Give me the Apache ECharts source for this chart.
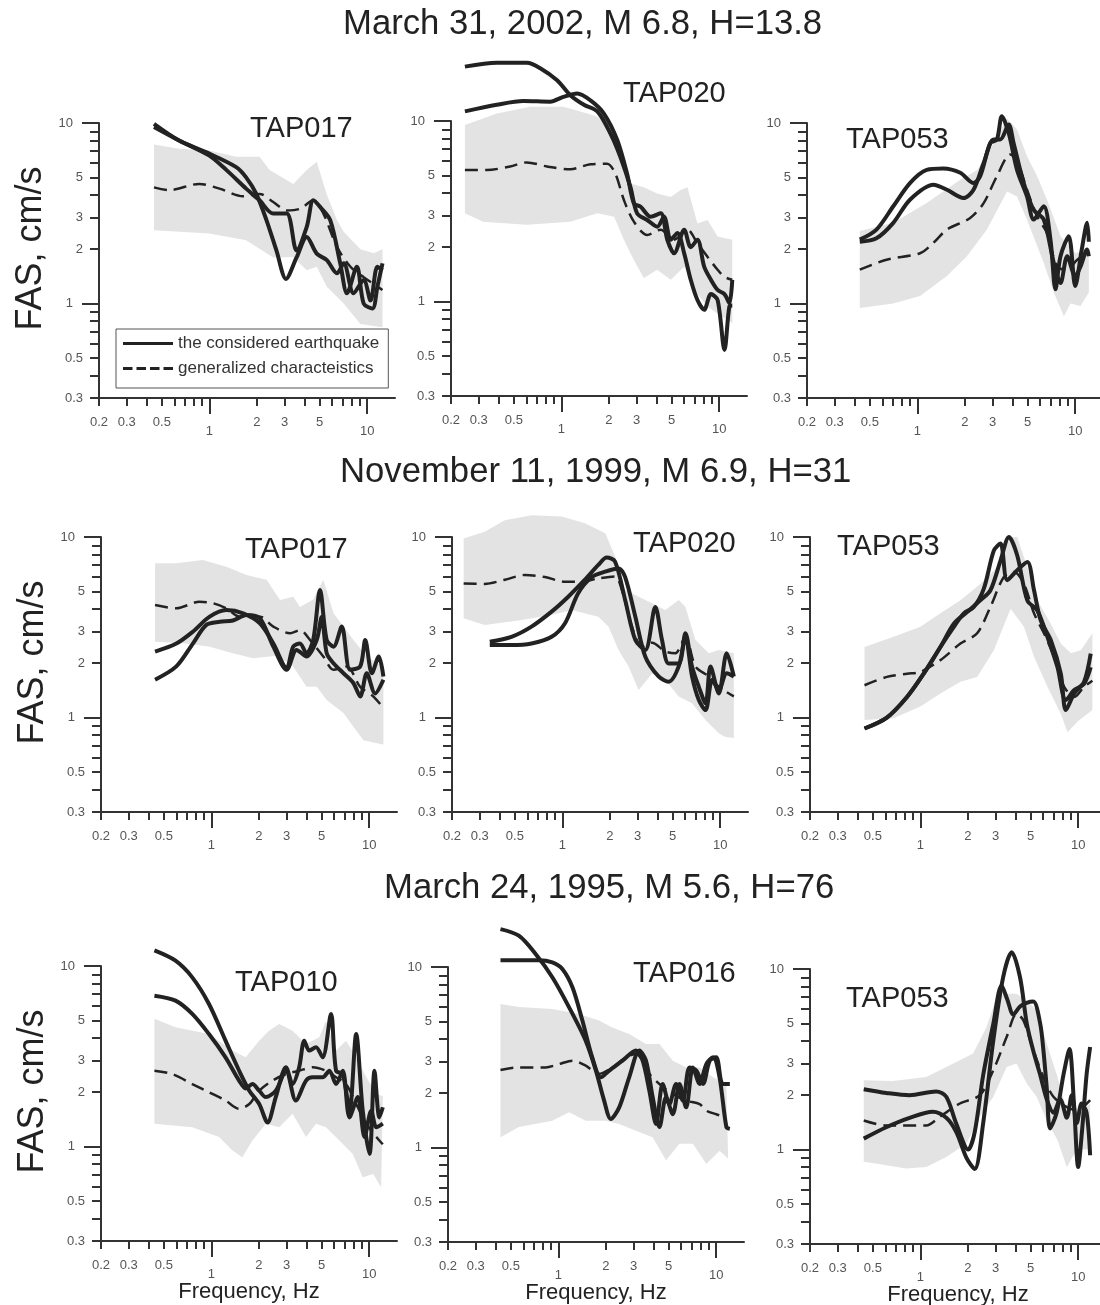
<!DOCTYPE html>
<html>
<head>
<meta charset="utf-8">
<title>FAS spectra</title>
<script src="https://cdn.jsdelivr.net/npm/echarts@6/dist/echarts.min.js"></script>
<style>
html, body { margin: 0; padding: 0; background: #fff; }
#chart { width: 1100px; height: 1305px; }
</style>
</head>
<body>
<div id="chart"></div>
<script>
// tick positions (Hz / cm/s)
const xTickShort = [0.2, 0.3, 0.4, 0.5, 0.6, 0.7, 0.8, 0.9, 2, 3, 4, 5, 6, 7, 8, 9]
const xTickLong = [1, 10]
const xLabelShort = [0.2, 0.3, 0.5, 2, 3, 5]
const xLabelLong = [1, 10]
const yTickShort = [0.3, 0.4, 0.5, 0.6, 0.7, 0.8, 0.9, 2, 3, 4, 5, 6, 7, 8, 9]
const yTickLong = [1, 10]
const yLabelShort = [0.3, 0.5, 2, 3, 5]
const yLabelLong = [1, 10]

const rowTitles = ['March 31, 2002, M 6.8, H=13.8', 'November 11, 1999, M 6.9, H=31', 'March 24, 1995, M 5.6, H=76']
const stations = ['TAP017', 'TAP020', 'TAP053', 'TAP017', 'TAP020', 'TAP053', 'TAP010', 'TAP016', 'TAP053']
const legendNames = ['the considered earthquake', 'generalized characteistics']

// ---- March 31, 2002 ----
const p11BandHi = [[0.446, 7.6], [0.643, 7.2], [1.0, 7.05], [1.48, 6.5], [2.08, 6.5], [2.41, 5.5], [3.4, 4.6], [4.14, 5.5], [4.79, 6.1], [5.55, 4.0], [6.43, 2.9], [7.1, 2.5], [9.05, 2.0], [11.0, 1.9], [12.5, 2.0]]
const p11BandLo = [[0.446, 2.55], [1.0, 2.44], [1.71, 2.24], [2.54, 1.8], [3.4, 1.81], [4.14, 1.53], [4.79, 1.6], [5.55, 1.24], [7.1, 1.0], [9.05, 0.77], [12.5, 0.74]]
const p11Dash = [[0.446, 4.4], [0.555, 4.25], [0.863, 4.6], [1.16, 4.33], [1.63, 3.93], [2.08, 4.05], [2.54, 3.65], [3.09, 3.28], [3.75, 3.35], [4.56, 3.73], [5.28, 3.15], [6.43, 2.06], [7.83, 1.6], [9.5, 1.4], [12.5, 1.19]]
const p11SolidA = [[0.446, 9.9], [0.643, 8.0], [0.952, 6.9], [1.48, 5.7], [1.71, 5.0], [1.98, 4.06], [2.3, 2.9], [2.66, 1.97], [3.06, 1.37], [3.57, 1.8], [4.14, 2.34], [4.79, 1.89], [5.55, 1.74], [6.43, 1.47], [7.1, 1.67], [8.2, 1.14], [9.5, 1.35], [10.5, 1.04], [11.6, 1.6], [12.5, 1.53]]
const p11SolidB = [[0.446, 9.5], [0.643, 8.0], [1.0, 6.6], [1.28, 5.5], [1.71, 4.33], [2.08, 3.73], [2.54, 3.15], [3.09, 3.15], [3.57, 1.97], [4.14, 2.66], [4.56, 3.73], [5.03, 3.43], [5.83, 2.9], [6.75, 1.67], [7.45, 1.14], [8.6, 1.6], [9.5, 1.0], [10.8, 0.94], [11.6, 1.24], [12.5, 1.67]]

const p12BandHi = [[0.245, 9.5], [0.39, 11.0], [0.635, 12.0], [1.03, 12.0], [1.32, 11.3], [1.69, 10.6], [1.95, 9.3], [2.37, 6.6], [2.74, 4.5], [3.33, 4.3], [4.05, 3.97], [4.93, 3.8], [5.7, 4.15], [6.29, 4.3], [7.28, 2.71], [8.43, 2.83], [9.77, 2.29], [12.1, 2.2]]
const p12BandLo = [[0.245, 3.08], [0.32, 2.77], [0.605, 2.66], [1.14, 2.77], [1.69, 3.08], [2.16, 2.95], [2.49, 2.2], [2.88, 1.7], [3.33, 1.35], [4.05, 1.5], [4.93, 1.32], [6.0, 1.56], [7.28, 1.1], [8.43, 0.94], [9.77, 0.86], [12.1, 0.76]]
const p12Dash = [[0.245, 5.35], [0.337, 5.35], [0.474, 5.6], [0.605, 5.9], [0.81, 5.6], [1.14, 5.4], [1.53, 5.76], [1.95, 5.8], [2.2, 5.1], [2.49, 3.65], [2.88, 2.77], [3.5, 2.34], [4.26, 2.5], [5.18, 2.2], [6.29, 2.5], [7.28, 2.1], [8.43, 1.77], [9.77, 1.5], [10.8, 1.37], [12.1, 1.32]]
const p12SolidA = [[0.245, 20], [0.39, 21], [0.605, 21], [0.735, 19.6], [0.94, 16.8], [1.14, 13.9], [1.39, 12.3], [1.69, 11.3], [2.05, 8.5], [2.37, 6.3], [2.74, 4.3], [3.02, 3.08], [3.5, 2.83], [4.05, 2.6], [4.47, 2.95], [4.93, 2.2], [5.44, 2.4], [6.0, 1.85], [6.6, 1.32], [7.28, 1.02], [8.03, 0.9], [8.86, 1.1], [9.77, 1.02], [10.8, 0.54], [11.6, 0.94], [12.1, 0.95]]
const p12SolidB = [[0.245, 11.3], [0.39, 12.3], [0.576, 12.9], [0.85, 12.8], [1.03, 13.6], [1.26, 14.2], [1.53, 13.0], [1.86, 11.0], [2.26, 7.85], [2.61, 5.1], [2.88, 3.5], [3.18, 3.35], [3.68, 2.95], [4.26, 3.08], [4.69, 2.2], [5.18, 1.85], [6.0, 2.5], [6.6, 2.0], [7.28, 2.2], [8.03, 1.56], [8.86, 1.32], [9.77, 1.16], [10.8, 1.1], [11.6, 0.98], [12.1, 1.32]]

const p13BandHi = [[0.432, 2.52], [0.704, 2.8], [1.146, 3.6], [1.87, 4.85], [2.4, 5.5], [3.04, 7.75], [3.7, 10.6], [4.28, 9.2], [4.95, 6.55], [5.74, 5.07], [6.63, 3.76], [8.07, 2.36], [10.0, 1.9], [12.2, 2.0]]
const p13BandLo = [[0.432, 0.946], [0.704, 1.0], [1.04, 1.1], [1.54, 1.42], [2.06, 1.83], [2.76, 2.57], [3.7, 4.18], [4.28, 3.92], [4.95, 2.92], [6.32, 1.68], [7.32, 1.15], [8.48, 0.85], [9.34, 1.0], [10.8, 0.97], [12.2, 1.15]]
const p13Dash = [[0.432, 1.54], [0.638, 1.75], [1.04, 1.9], [1.264, 2.17], [1.54, 2.57], [2.16, 2.98], [2.63, 3.6], [3.19, 5.07], [3.88, 6.7], [4.28, 6.2], [4.95, 4.27], [5.74, 3.04], [6.63, 2.46], [7.69, 1.6], [8.9, 1.54], [10.3, 1.75], [12.2, 1.9]]
const p13SolidA = [[0.432, 2.26], [0.551, 2.57], [0.704, 3.46], [0.898, 4.65], [1.146, 5.5], [1.46, 5.6], [1.87, 5.3], [2.27, 4.65], [2.5, 5.07], [2.9, 7.75], [3.19, 8.1], [3.43, 10.9], [3.79, 8.8], [4.28, 5.5], [4.95, 3.92], [5.46, 2.92], [6.32, 3.46], [6.97, 2.26], [7.5, 1.2], [8.07, 1.83], [9.1, 2.36], [10.0, 1.25], [11.0, 1.99], [11.9, 2.8], [12.2, 2.2]]
const p13SolidB = [[0.432, 2.2], [0.551, 2.3], [0.704, 2.8], [0.898, 3.76], [1.264, 4.55], [1.54, 4.27], [1.96, 3.84], [2.27, 4.27], [2.63, 6.0], [3.04, 8.1], [3.35, 8.1], [3.79, 9.8], [4.07, 7.75], [4.72, 4.65], [5.46, 3.3], [6.32, 2.92], [7.32, 1.68], [8.07, 1.3], [8.9, 1.83], [10.0, 1.42], [10.8, 1.6], [11.9, 1.99], [12.2, 1.83]]

// ---- November 11, 1999 ----
const p21BandHi = [[0.44, 7.15], [0.6, 7.15], [0.885, 7.45], [1.245, 6.85], [1.67, 6.16], [2.24, 5.8], [2.72, 4.48], [3.3, 4.67], [3.64, 4.1], [4.42, 4.5], [5.12, 5.8], [5.94, 3.78], [6.87, 3.19], [7.95, 2.69], [9.65, 2.18], [12.3, 1.92]]
const p21BandLo = [[0.44, 2.63], [0.694, 2.57], [0.976, 2.47], [1.37, 2.27], [1.84, 2.13], [2.59, 2.2], [3.3, 1.92], [4.01, 1.48], [4.65, 1.48], [5.38, 1.25], [6.87, 1.06], [7.95, 0.89], [9.2, 0.75], [11.2, 0.72], [12.3, 0.71]]
const p21Dash = [[0.44, 4.2], [0.6, 4.03], [0.843, 4.38], [1.02, 4.3], [1.245, 4.03], [1.51, 3.62], [2.03, 3.62], [2.47, 3.19], [3.15, 2.93], [3.64, 3.05], [4.22, 2.69], [5.12, 2.18], [5.94, 1.84], [7.21, 1.92], [8.77, 1.48], [10.6, 1.31], [12.3, 1.13]]
const p21SolidA = [[0.44, 2.32], [0.6, 2.57], [0.764, 2.99], [0.976, 3.62], [1.245, 3.94], [1.59, 3.78], [2.03, 3.33], [2.47, 2.57], [3.0, 1.88], [3.3, 2.47], [3.64, 2.57], [4.01, 2.27], [4.42, 2.69], [4.88, 5.09], [5.38, 2.69], [5.94, 2.47], [6.7, 3.19], [7.57, 1.84], [8.77, 1.92], [9.44, 2.69], [10.4, 1.76], [11.5, 2.18], [12.3, 1.69]]
const p21SolidB = [[0.44, 1.62], [0.6, 1.92], [0.764, 2.57], [0.93, 3.26], [1.13, 3.39], [1.37, 3.45], [1.67, 3.7], [2.03, 3.55], [2.47, 2.47], [3.0, 1.84], [3.47, 2.37], [4.01, 2.18], [4.65, 2.69], [5.0, 3.6], [5.38, 2.27], [5.94, 2.0], [6.87, 1.76], [7.95, 1.55], [8.77, 1.31], [9.65, 1.76], [10.9, 1.36], [12.3, 1.62]]

const p22BandHi = [[0.237, 9.8], [0.322, 10.7], [0.432, 12.4], [0.638, 13.2], [0.99, 13.0], [1.39, 11.9], [1.87, 10.5], [2.16, 7.8], [2.5, 5.1], [3.04, 4.67], [3.7, 4.3], [4.49, 3.94], [5.46, 4.48], [6.02, 4.1], [6.97, 2.69], [8.47, 2.27], [9.8, 2.37], [12.2, 2.27]]
const p22BandLo = [[0.237, 3.55], [0.322, 3.26], [0.525, 3.45], [0.855, 3.7], [1.146, 3.94], [1.69, 3.62], [1.96, 3.19], [2.27, 2.37], [2.63, 1.92], [3.04, 1.42], [3.7, 1.75], [4.49, 1.62], [5.46, 1.31], [6.63, 1.2], [8.07, 0.97], [9.8, 0.82], [10.8, 0.78], [12.2, 0.77]]
const p22Dash = [[0.237, 5.53], [0.322, 5.5], [0.432, 5.8], [0.579, 6.16], [0.776, 6.0], [1.04, 5.65], [1.33, 5.65], [1.69, 5.9], [2.16, 6.05], [2.38, 5.1], [2.76, 3.19], [3.19, 2.47], [3.7, 2.6], [4.49, 2.32], [5.2, 2.27], [6.02, 2.8], [6.97, 1.92], [8.47, 1.69], [9.8, 1.48], [12.2, 1.31]]
const p22SolidA = [[0.347, 2.63], [0.476, 2.8], [0.638, 3.19], [0.855, 3.86], [1.09, 4.67], [1.39, 5.8], [1.69, 7.0], [1.91, 7.7], [2.16, 7.3], [2.5, 4.48], [2.9, 2.69], [3.35, 2.37], [3.88, 4.1], [4.28, 2.69], [4.72, 1.99], [5.46, 1.99], [6.02, 2.93], [6.63, 1.92], [7.32, 1.48], [8.07, 1.2], [8.68, 1.92], [9.8, 1.36], [11.0, 2.27], [12.2, 1.69]]
const p22SolidB = [[0.347, 2.52], [0.476, 2.52], [0.638, 2.57], [0.855, 2.8], [1.04, 3.33], [1.26, 4.88], [1.54, 6.0], [1.87, 6.43], [2.27, 6.7], [2.5, 6.0], [2.9, 3.62], [3.35, 2.18], [4.07, 1.69], [4.72, 1.58], [5.46, 1.92], [6.02, 2.8], [6.63, 1.69], [7.32, 1.25], [8.07, 1.1], [8.9, 1.62], [9.8, 1.42], [11.0, 1.76], [12.2, 1.69]]

const p23BandHi = [[0.443, 2.46], [0.677, 2.8], [1.0, 3.18], [1.34, 3.78], [1.795, 4.46], [2.4, 5.5], [3.07, 6.8], [3.55, 10.0], [4.11, 10.0], [4.76, 6.8], [5.51, 4.46], [6.7, 3.31], [7.76, 2.57], [8.99, 2.27], [10.4, 2.36], [12.3, 2.93]]
const p23BandLo = [[0.443, 0.97], [0.677, 0.99], [1.0, 1.15], [1.34, 1.36], [1.795, 1.58], [2.29, 1.68], [2.92, 2.36], [3.73, 4.0], [4.53, 3.18], [5.25, 2.17], [6.38, 1.48], [7.76, 1.05], [8.56, 0.83], [9.91, 0.95], [12.3, 1.1]]
const p23Dash = [[0.443, 1.51], [0.614, 1.68], [0.823, 1.75], [1.0, 1.79], [1.34, 2.08], [1.795, 2.57], [2.29, 2.93], [2.78, 4.1], [3.38, 6.0], [3.92, 6.4], [4.53, 5.5], [5.25, 3.78], [6.08, 2.92], [7.04, 2.17], [8.15, 1.48], [9.44, 1.3], [10.9, 1.48], [12.3, 1.6]]
const p23SolidA = [[0.443, 0.87], [0.614, 1.0], [0.823, 1.3], [1.05, 1.75], [1.34, 2.46], [1.63, 3.18], [1.885, 3.78], [2.18, 4.1], [2.525, 5.18], [2.92, 8.4], [3.22, 9.2], [3.55, 5.77], [4.11, 6.55], [4.76, 7.27], [5.25, 5.07], [5.79, 3.45], [6.7, 2.69], [7.76, 1.75], [8.35, 1.1], [9.44, 1.36], [10.9, 1.58], [12.0, 2.26]]
const p23SolidB = [[0.443, 0.87], [0.614, 1.0], [0.823, 1.3], [1.05, 1.75], [1.34, 2.46], [1.63, 3.31], [1.98, 3.84], [2.4, 4.46], [2.78, 5.07], [3.22, 7.4], [3.64, 10.0], [4.11, 7.9], [4.76, 4.46], [5.51, 3.92], [6.38, 2.8], [7.39, 1.9], [8.35, 1.25], [9.44, 1.42], [10.9, 1.54], [12.0, 1.9]]

// ---- March 24, 1995 ----
const p31BandHi = [[0.436, 5.1], [0.593, 4.58], [0.966, 4.2], [1.36, 3.4], [1.65, 3.12], [2.01, 3.86], [2.32, 4.38], [2.69, 4.77], [3.27, 4.38], [3.98, 3.7], [4.83, 4.03], [5.32, 4.98], [6.17, 3.4], [7.14, 3.86], [8.27, 3.12], [9.59, 2.42], [11.1, 1.96], [12.2, 1.9]]
const p31BandLo = [[0.436, 1.34], [0.757, 1.28], [1.12, 1.13], [1.36, 0.95], [1.57, 0.873], [1.82, 1.08], [2.21, 1.34], [2.69, 1.28], [3.27, 1.52], [3.98, 1.13], [4.6, 1.34], [5.32, 1.28], [6.48, 1.08], [7.87, 0.91], [9.1, 0.676], [10.6, 0.706], [11.9, 0.596]]
const p31Dash = [[0.436, 2.63], [0.565, 2.52], [0.757, 2.22], [0.966, 2.0], [1.23, 1.8], [1.5, 1.62], [1.74, 1.72], [2.01, 2.04], [2.44, 2.32], [2.97, 2.52], [3.6, 2.63], [4.38, 2.75], [5.32, 2.63], [6.17, 2.42], [7.14, 2.22], [8.27, 1.72], [9.59, 1.34], [11.1, 1.13], [12.2, 1.03]]
const p31SolidA = [[0.436, 12.2], [0.593, 10.7], [0.757, 8.65], [0.966, 6.16], [1.23, 3.86], [1.5, 2.63], [1.74, 2.04], [2.01, 1.72], [2.27, 1.36], [2.56, 1.88], [2.97, 2.75], [3.27, 2.22], [3.6, 2.75], [3.88, 3.86], [4.17, 3.4], [4.6, 3.55], [5.07, 3.12], [5.73, 5.43], [6.17, 2.63], [6.8, 2.52], [7.5, 1.58], [8.27, 4.2], [9.1, 1.58], [10.05, 0.91], [10.8, 2.63], [11.6, 1.45], [12.2, 1.65]]
const p31SolidB = [[0.436, 6.85], [0.593, 6.43], [0.757, 5.43], [0.966, 4.2], [1.23, 3.12], [1.5, 2.32], [1.65, 2.1], [1.82, 2.22], [2.01, 2.04], [2.21, 1.88], [2.56, 2.04], [2.97, 2.63], [3.43, 1.8], [3.98, 2.32], [4.38, 2.42], [5.07, 2.42], [5.59, 2.63], [6.17, 2.22], [6.8, 2.63], [7.5, 1.45], [8.47, 1.88], [9.34, 1.13], [10.3, 1.58], [11.1, 1.28], [12.2, 1.34]]

const p32BandHi = [[0.43, 6.23], [0.562, 6.0], [0.916, 5.85], [1.35, 5.5], [1.81, 5.05], [2.2, 4.63], [2.81, 4.25], [3.59, 3.75], [4.37, 3.75], [5.31, 3.03], [6.45, 2.78], [7.85, 2.78], [9.55, 2.45], [11.6, 2.25]]
const p32BandLo = [[0.43, 1.14], [0.562, 1.3], [0.916, 1.41], [1.17, 1.57], [1.49, 1.41], [2.0, 1.41], [2.43, 1.35], [3.1, 1.24], [3.96, 1.14], [4.81, 0.85], [5.85, 1.05], [7.12, 1.05], [8.66, 0.81], [10.5, 0.96], [11.9, 0.87]]
const p32Dash = [[0.43, 2.69], [0.562, 2.78], [0.831, 2.78], [1.01, 2.9], [1.23, 3.03], [1.49, 2.84], [1.81, 2.56], [2.2, 2.78], [2.68, 3.16], [3.1, 3.3], [3.77, 2.56], [4.37, 2.25], [5.31, 1.98], [6.45, 1.82], [7.85, 1.74], [8.66, 1.6], [10.0, 1.53], [11.6, 1.47]]
const p32SolidA = [[0.43, 16.2], [0.562, 14.9], [0.718, 11.8], [0.916, 8.77], [1.17, 5.98], [1.49, 3.91], [1.73, 2.67], [1.95, 1.82], [2.15, 1.44], [2.43, 1.67], [2.81, 2.45], [3.26, 3.45], [3.59, 3.03], [3.96, 1.9], [4.37, 1.3], [4.81, 1.9], [5.31, 1.53], [5.85, 2.25], [6.45, 1.67], [7.12, 2.78], [7.85, 2.25], [8.66, 2.9], [9.55, 3.16], [10.5, 2.45], [11.6, 1.3], [12.2, 1.27]]
const p32SolidB = [[0.43, 10.9], [0.562, 10.9], [0.754, 10.9], [0.916, 10.6], [1.06, 9.75], [1.23, 7.7], [1.42, 5.05], [1.64, 3.16], [1.86, 2.45], [2.1, 2.67], [2.55, 3.03], [3.1, 3.45], [3.42, 3.03], [3.77, 2.07], [4.16, 1.35], [4.58, 2.25], [5.05, 1.74], [5.57, 2.25], [6.15, 1.82], [6.78, 2.78], [7.48, 2.67], [8.25, 2.25], [9.1, 3.03], [10.0, 3.16], [11.0, 2.25], [12.2, 2.25]]

const p33BandHi = [[0.438, 2.42], [0.67, 2.4], [1.09, 2.52], [1.46, 2.87], [1.78, 3.12], [2.16, 3.4], [2.63, 4.77], [3.04, 7.0], [3.52, 7.3], [4.07, 7.3], [4.72, 6.7], [5.46, 5.9], [6.32, 3.86], [7.39, 2.52], [8.47, 1.65], [9.8, 1.52], [11.9, 1.8]]
const p33BandLo = [[0.438, 0.855], [0.608, 0.82], [0.815, 0.785], [1.09, 0.8], [1.46, 0.91], [1.96, 1.08], [2.38, 1.52], [2.9, 1.96], [3.52, 2.87], [4.07, 3.0], [4.72, 2.32], [5.46, 1.96], [6.32, 1.45], [7.39, 1.13], [8.47, 0.8], [9.8, 1.0], [11.9, 1.0]]
const p33Dash = [[0.438, 1.45], [0.608, 1.36], [1.09, 1.36], [1.33, 1.52], [1.78, 1.8], [2.38, 2.0], [2.9, 2.75], [3.52, 4.2], [4.07, 5.65], [4.49, 5.2], [5.2, 3.55], [6.02, 2.52], [6.97, 1.96], [8.47, 1.72], [9.8, 1.65], [11.9, 1.88]]
const p33SolidA = [[0.438, 2.16], [0.608, 2.06], [0.855, 2.0], [1.26, 2.1], [1.46, 1.96], [1.69, 1.39], [2.01, 1.0], [2.21, 1.25], [2.5, 2.58], [2.9, 4.98], [3.27, 8.1], [3.55, 6.8], [3.88, 5.6], [4.28, 6.2], [4.72, 6.5], [5.2, 6.6], [5.74, 5.0], [6.02, 3.55], [6.32, 2.2], [6.63, 1.31], [7.3, 1.6], [8.07, 2.6], [8.8, 3.6], [9.4, 1.8], [10.0, 0.8], [10.6, 1.3], [11.3, 2.6], [11.9, 3.7]]
const p33SolidB = [[0.438, 1.15], [0.608, 1.33], [0.855, 1.5], [1.2, 1.62], [1.46, 1.5], [1.69, 1.25], [1.96, 0.9], [2.21, 0.78], [2.5, 1.4], [2.9, 4.03], [3.35, 9.05], [3.79, 12.4], [4.28, 9.0], [4.72, 5.0], [5.2, 3.5], [5.74, 2.6], [6.32, 1.9], [6.97, 1.6], [7.69, 1.9], [8.47, 1.5], [9.1, 2.0], [9.8, 1.4], [10.5, 1.8], [11.3, 1.6], [11.9, 0.93]]

const panels = [
  { hi: p11BandHi, lo: p11BandLo, dash: p11Dash, solid: [p11SolidA, p11SolidB] },
  { hi: p12BandHi, lo: p12BandLo, dash: p12Dash, solid: [p12SolidA, p12SolidB] },
  { hi: p13BandHi, lo: p13BandLo, dash: p13Dash, solid: [p13SolidA, p13SolidB] },
  { hi: p21BandHi, lo: p21BandLo, dash: p21Dash, solid: [p21SolidA, p21SolidB] },
  { hi: p22BandHi, lo: p22BandLo, dash: p22Dash, solid: [p22SolidA, p22SolidB] },
  { hi: p23BandHi, lo: p23BandLo, dash: p23Dash, solid: [p23SolidA, p23SolidB] },
  { hi: p31BandHi, lo: p31BandLo, dash: p31Dash, solid: [p31SolidA, p31SolidB] },
  { hi: p32BandHi, lo: p32BandLo, dash: p32Dash, solid: [p32SolidA, p32SolidB] },
  { hi: p33BandHi, lo: p33BandLo, dash: p33Dash, solid: [p33SolidA, p33SolidB] }
]

// layout
const gridLeft = [99, 451, 807, 101, 452, 810, 101, 448, 810]
const gridTop = [123, 121, 123, 537, 537, 537, 966, 967, 969]
const gridW = 296
const gridH = 275
const rowTitleLeft = [343, 340, 384]
const rowTitleTop = [7, 455, 871]
const stLeft = [250, 623, 846, 245, 633, 837, 235, 633, 846]
const stTop = [114, 79, 125, 535, 529, 532, 968, 959, 984]

// legend keys: a bar for the solid line, four dashes for the dashed one
const iconSolid = 'path://M0,0H0.01V0.01H0Z M0,5.5H50V8.5H0Z M0,13.99H0.01V14H0Z'
const iconDash = 'path://M0,0H0.01V0.01H0Z M0,5.5H9.5V8.5H0Z M13.5,5.5H23V8.5H13.5Z M27,5.5H36.5V8.5H27Z M40.5,5.5H50V8.5H40.5Z M0,13.99H0.01V14H0Z'

const FONT = 'Liberation Sans, Arial, sans-serif'
const lg = v => Math.log10(v)
const fmt = v => String(+Math.pow(10, v).toPrecision(2))
const toLog = arr => arr.map(p => [lg(p[0]), lg(p[1])])

const chart = echarts.init(document.getElementById('chart'))

const grid = []
const xAxis = []
const yAxis = []
const series = []

function axisLine (show) {
  return { show: show, onZero: false, lineStyle: { color: '#333', width: 2 } }
}
function tick (len, vals) {
  return { length: len, lineStyle: { color: '#333', width: 2 }, customValues: vals.map(lg) }
}
function label (margin, vals) {
  return { margin: margin, customValues: vals.map(lg), formatter: fmt, fontSize: 13, color: '#555', fontFamily: FONT }
}

panels.forEach(function (p, i) {
  const row = Math.floor(i / 3)
  const col = i % 3
  grid.push({ left: gridLeft[i], top: gridTop[i], width: gridW, height: gridH, containLabel: false, outerBoundsMode: 'none' })

  const xBase = { type: 'value', gridIndex: i, position: 'bottom', min: lg(0.2), max: lg(15), splitLine: { show: false } }
  xAxis.push(Object.assign({}, xBase, {
    axisLine: axisLine(true),
    axisTick: tick(8, xTickShort),
    axisLabel: label(18, xLabelShort),
    name: row === 2 ? 'Frequency, Hz' : '',
    nameLocation: 'middle',
    nameGap: 40,
    nameMoveOverlap: false,
    nameTextStyle: { fontSize: 22, color: '#222', fontFamily: FONT }
  }))
  xAxis.push(Object.assign({}, xBase, {
    axisLine: axisLine(false),
    axisTick: tick(16, xTickLong),
    axisLabel: label(27, xLabelLong)
  }))

  const yBase = { type: 'value', gridIndex: i, position: 'left', min: lg(0.3), max: 1, splitLine: { show: false } }
  yAxis.push(Object.assign({}, yBase, {
    axisLine: axisLine(true),
    axisTick: tick(9, yTickShort),
    axisLabel: label(16, yLabelShort)
  }))
  yAxis.push(Object.assign({}, yBase, {
    axisLine: axisLine(false),
    axisTick: tick(17, yTickLong),
    axisLabel: label(26, yLabelLong),
    name: col === 0 ? 'FAS, cm/s' : '',
    nameLocation: 'middle',
    nameRotate: 90,
    nameGap: 50,
    nameMoveOverlap: false,
    nameTextStyle: { fontSize: 36, color: '#222', fontFamily: FONT, padding: [0, 0, 0, 24] }
  }))

  const ax = 2 * i
  const hi = p.hi
  const lo = p.lo
  series.push({
    type: 'custom',
    xAxisIndex: ax,
    yAxisIndex: ax,
    silent: true,
    clip: false,
    z: 1,
    data: [[lg(hi[0][0]), lg(hi[0][1])]],
    renderItem: function (params, api) {
      const pts = toLog(hi).concat(toLog(lo.slice().reverse())).map(function (d) { return api.coord(d) })
      return { type: 'polygon', shape: { points: pts }, style: { fill: '#e3e3e3' } }
    }
  })
  series.push({
    type: 'line',
    name: legendNames[1],
    xAxisIndex: ax,
    yAxisIndex: ax,
    data: toLog(p.dash),
    symbol: 'none',
    smooth: 0.3,
    clip: false,
    z: 3,
    silent: true,
    itemStyle: { color: '#222' },
    lineStyle: { color: '#222', width: 2.5, type: [13, 7] }
  })
  p.solid.forEach(function (s) {
    series.push({
      type: 'line',
      name: legendNames[0],
      xAxisIndex: ax,
      yAxisIndex: ax,
      data: toLog(s),
      symbol: 'none',
      smooth: 0.3,
      clip: false,
      z: 4,
      silent: true,
      itemStyle: { color: '#222' },
      lineStyle: { color: '#222', width: 4 }
    })
  })
})

const title = rowTitles.map(function (t, r) {
  return { text: t, left: rowTitleLeft[r], top: rowTitleTop[r], padding: 0, textStyle: { fontSize: 34.7, fontWeight: 'normal', color: '#222', fontFamily: FONT } }
}).concat(stations.map(function (t, i) {
  return { text: t, left: stLeft[i], top: stTop[i], padding: 0, textStyle: { fontSize: 29, fontWeight: 'normal', color: '#222', fontFamily: FONT } }
}))

const option = {
  animation: false,
  backgroundColor: '#fff',
  title: title,
  legend: {
    data: [
      { name: legendNames[0], icon: iconSolid },
      { name: legendNames[1], icon: iconDash }
    ],
    left: 116,
    top: 329,
    orient: 'vertical',
    itemWidth: 50,
    itemHeight: 14,
    itemGap: 8,
    padding: [6, 9, 11, 7],
    borderColor: '#555',
    borderWidth: 1,
    backgroundColor: '#fff',
    selectedMode: false,
    itemStyle: { color: '#222' },
    textStyle: { fontSize: 17, color: '#333', fontFamily: FONT },
    z: 10
  },
  grid: grid,
  xAxis: xAxis,
  yAxis: yAxis,
  series: series
}

chart.setOption(option)
</script>
</body>
</html>
